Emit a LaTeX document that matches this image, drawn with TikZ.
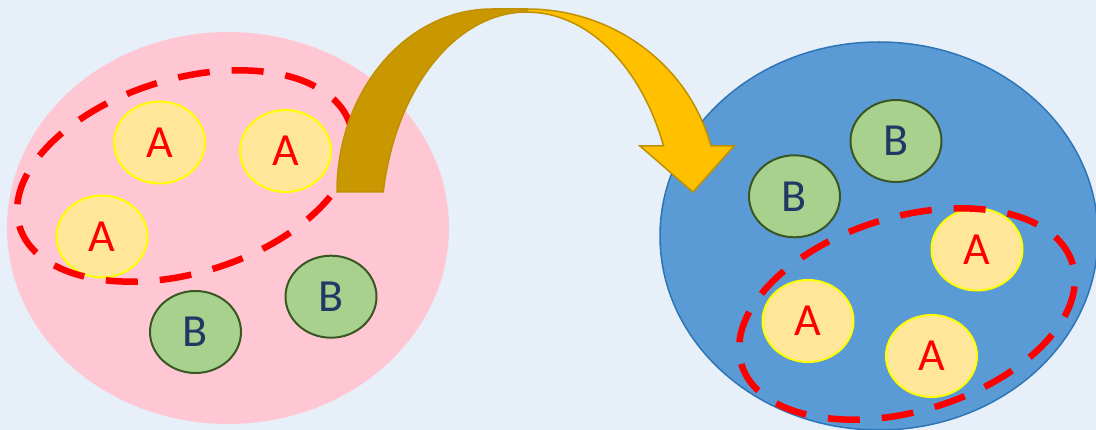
\documentclass[tikz,border=0pt]{standalone}
\usepackage{fontspec}
\newfontfamily\calib{Carlito}
\usetikzlibrary{shapes.geometric}
\definecolor{bg}{RGB}{231,239,249}
\definecolor{pinkfill}{RGB}{255,199,212}
\definecolor{bluefill}{RGB}{91,155,213}
\definecolor{blueline}{RGB}{46,117,182}
\definecolor{afill}{RGB}{255,230,153}
\definecolor{aline}{RGB}{255,255,0}
\definecolor{bfill}{RGB}{169,209,142}
\definecolor{bline}{RGB}{56,87,35}
\definecolor{btext}{RGB}{31,56,100}
\definecolor{darkgold}{RGB}{201,151,0}
\definecolor{lightgold}{RGB}{255,192,0}
\definecolor{goldline}{RGB}{191,144,0}
\tikzset{
  aball/.style={ellipse, draw=aline, line width=2pt, fill=afill, minimum width=91pt, minimum height=82pt, inner sep=0pt, text=red, font=\calib\fontsize{46}{50}\selectfont},
  bball/.style={ellipse, draw=bline, line width=2pt, fill=bfill, minimum width=91pt, minimum height=82pt, inner sep=0pt, text=btext, font=\calib\fontsize{46}{50}\selectfont},
  group/.style={ellipse, draw=red, line width=6.5pt, dash pattern=on 32pt off 22pt, minimum width=346pt, minimum height=194pt, inner sep=0pt, rotate=17},
  arrowpart/.style={draw=goldline, line width=1.5pt, line join=miter}
}
\begin{document}
\begin{tikzpicture}[x=1pt,y=-1pt]
\useasboundingbox (0,0) rectangle (1096,430);
\clip (0,0) rectangle (1096,430);
\fill[bg] (0,0) rectangle (1096,430);
% big sets
\node[ellipse, fill=pinkfill, minimum width=442pt, minimum height=392pt, inner sep=0pt] (setL) at (228,228) {};
\node[ellipse, fill=bluefill, draw=blueline, line width=1.5pt, minimum width=438pt, minimum height=388pt, inner sep=0pt] (setR) at (879,236) {};
% left set balls
\node[aball] (a1) at (159.5,142.5) {A};
\node[aball] (a2) at (285.5,151) {A};
\node[aball] (a3) at (102,236.5) {A};
\node[bball] (b1) at (195.5,332) {B};
\node[bball] (b2) at (331,296.7) {B};
% right set balls
\node[bball] (b3) at (896,141) {B};
\node[bball] (b4) at (794.5,196.3) {B};
\node[aball] (a4) at (977,249.5) {A};
\node[aball] (a5) at (808,321) {A};
\node[aball] (a6) at (931.5,356) {A};
% dashed groups
\node[group] (gL) at (185,176) {};
\node[group] (gR) at (907,314) {};
% curved arrow: back (dark) part
\filldraw[arrowpart, fill=darkgold] (337,192)
  arc[start angle=180, end angle=270, x radius=155, y radius=183]
  -- (527,9) -- (527,12)
  arc[start angle=270, end angle=190.04, x radius=146, y radius=218]
  -- cycle;
% front (light) part with head
\filldraw[arrowpart, fill=lightgold] (527,9)
  arc[start angle=270, end angle=345.4, x radius=190, y radius=183]
  -- (734,146) -- (693,192) -- (640,146) -- (663.6,146)
  arc[start angle=337.3, end angle=270, x radius=148, y radius=218]
  -- cycle;
\end{tikzpicture}
\end{document}
